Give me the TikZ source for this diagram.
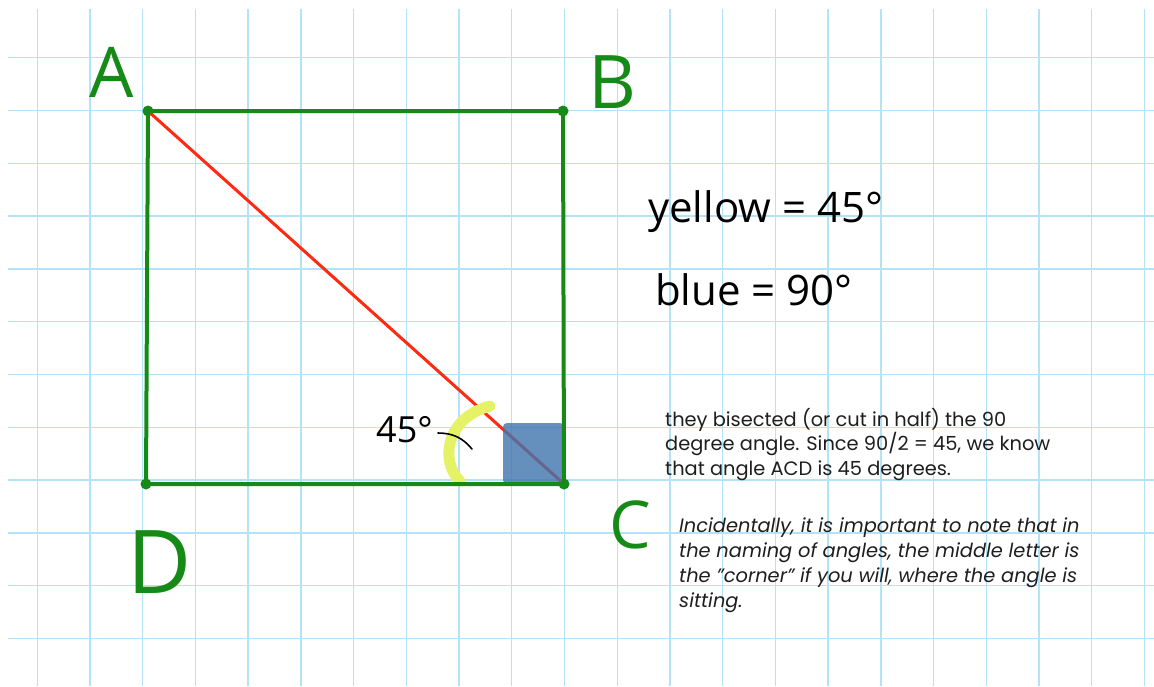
\documentclass[tikz,border=0pt]{standalone}
\usepackage{fontspec}
\setmainfont{Poppins}
\newfontfamily\handfont{Open Sans}
\usepackage{tikz}
\usetikzlibrary{positioning}
\definecolor{gridblue}{HTML}{B4E2F8}
\definecolor{penGreen}{HTML}{168A16}
\definecolor{penRed}{HTML}{FF2A12}
\definecolor{markBlue}{HTML}{3F74AC}
\definecolor{markYellow}{HTML}{E6F266}
\definecolor{inkgray}{HTML}{1E1E1E}

\begin{document}
\begin{tikzpicture}[x=1pt, y=-1pt,
  gridline/.style={draw=gridblue, line width=1.4pt},
  side/.style={draw=penGreen, line width=4pt},
  diag/.style={draw=penRed, line width=3pt},
  corner/.style={circle, fill=penGreen, inner sep=0pt, minimum size=11pt},
  letter/.style={text=penGreen, font=\handfont, inner sep=0pt},
  hand/.style={text=black, font=\handfont, inner sep=0pt, anchor=base west},
  note/.style={text=inkgray, inner sep=0pt, anchor=north west, align=left,
               font=\fontsize{19.4}{24.6}\selectfont}
]
  \useasboundingbox (0,0) rectangle (1154,686);
  \fill[white] (0,0) rectangle (1154,686);
  % grid paper
  \foreach \i in {0,...,21}
    \draw[gridline] ({37.3+\i*52.72},9) -- ({37.3+\i*52.72},686);
  \foreach \j in {0,...,11}
    \draw[gridline] (8,{57.7+\j*52.8}) -- (1154,{57.7+\j*52.8});

  % the square
  \node[corner] (A) at (148,111) {};
  \node[corner] (B) at (563,111) {};
  \node[corner] (C) at (564,484) {};
  \node[corner] (D) at (146,484) {};
  \draw[diag] (A.center) -- (C.center);
  \fill[markBlue, opacity=0.8, rounded corners=4pt] (503,423) rectangle (564,484);
  \draw[markYellow, line width=11pt, line cap=round] (460,481) .. controls (440,462) and (445,418) .. (490,406);
  \draw[side, line cap=round] (A.center) -- (B.center) -- (C.center) -- (D.center) -- cycle;

  \node[letter, font=\handfont\fontsize{70}{70}\selectfont] (labA) at (112,72) {A};
  \node[letter, font=\handfont\fontsize{74}{74}\selectfont] (labB) at (612,82) {B};
  \node[letter, font=\handfont\fontsize{66}{66}\selectfont] (labC) at (630,525) {C};
  \node[letter, font=\handfont\fontsize{88}{88}\selectfont] (labD) at (160,562) {D};

  % angle notes
  \node[hand, font=\handfont\fontsize{36}{36}\selectfont] (ang) at (376,442) {45°};
  \coordinate (m1) at (438,433);
  \coordinate (m2) at (472,449);
  \draw[black, line width=1.6pt, line cap=round] (m1) to[bend left=25] (m2);
  \node[hand, font=\handfont\fontsize{42}{42}\selectfont] (yel) at (648,222) {yellow = 45°};
  \node[hand, font=\handfont\fontsize{42}{42}\selectfont] (blu) at (655,305) {blue = 90°};

  % explanation
  \node[note] (why) at (665,408) {they bisected (or cut in half) the 90\\degree angle. Since 90/2 = 45, we know\\that angle ACD is 45 degrees.};
  \node[note, font=\itshape\fontsize{19.4}{25}\selectfont] (aside) at (679,518) {Incidentally, it is important to note that in\\the naming of angles, the middle letter is\\the "corner" if you will, where the angle is\\sitting.};
\end{tikzpicture}
\end{document}
